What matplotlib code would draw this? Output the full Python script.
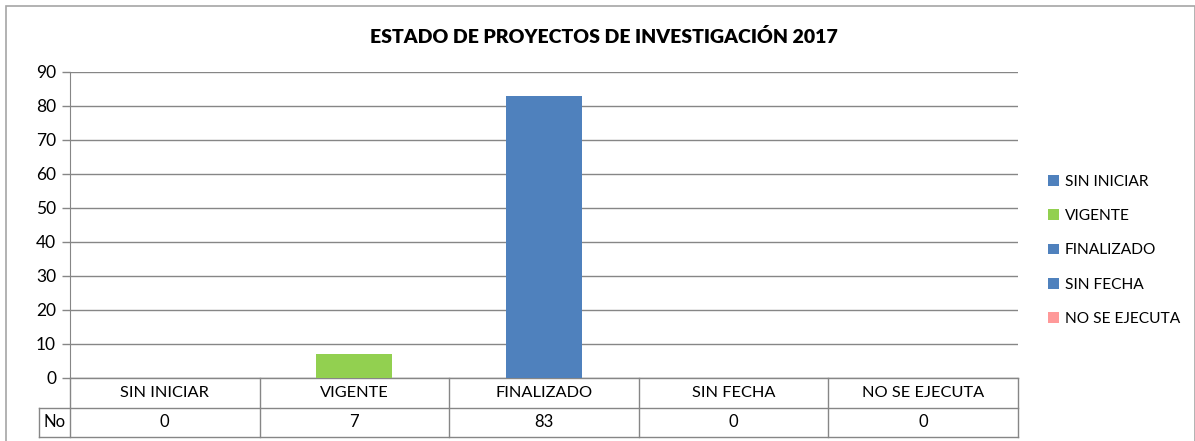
import matplotlib
matplotlib.use('Agg')
import matplotlib.pyplot as plt
from matplotlib.patches import Rectangle
from matplotlib.transforms import blended_transform_factory

plt.rcParams['font.family'] = ['Lato', 'DejaVu Sans']

categories = ['SIN INICIAR', 'VIGENTE', 'FINALIZADO', 'SIN FECHA', 'NO SE EJECUTA']
values = [0, 7, 83, 0, 0]
colors = ['#4F81BD', '#92D050', '#4F81BD', '#4F81BD', '#FF9999']
row_label = 'No'
title = 'ESTADO DE PROYECTOS DE INVESTIGACIÓN 2017'
yticks = list(range(0, 100, 10))

GRID = '#868686'
W, H = 1195, 441


def fx(px):
    return px / W


def fy(py):
    return 1 - py / H


fig = plt.figure(figsize=(W / 100, H / 100), dpi=100)

# outer chart border
fig.patches.append(Rectangle((fx(6), fy(445)), fx(1195) - fx(6), fy(5.5) - fy(445),
                             transform=fig.transFigure, fill=False,
                             edgecolor='#A6A6A6', lw=1.2))

ax = fig.add_axes([fx(70), fy(378), fx(1018) - fx(70), fy(72) - fy(378)])
ax.set_xlim(-0.5, len(categories) - 0.5)
ax.set_ylim(0, 90)

for i, (v, c) in enumerate(zip(values, colors)):
    ax.bar(i, v, width=0.4, color=c, label=categories[i], zorder=3)

ax.set_yticks(yticks)
ax.tick_params(axis='y', length=6, width=1, color=GRID, labelsize=12.5, pad=4)
ax.set_xticks([])
ax.yaxis.grid(True, color=GRID, lw=1, zorder=0)
for s in ['top', 'right', 'bottom']:
    ax.spines[s].set_visible(False)
ax.spines['left'].set_color(GRID)

# data table under the axis
trans = blended_transform_factory(ax.transData, ax.transAxes)
row_h = 29.5 / 306
y0 = 0
y1 = -row_h
y2 = -2 * row_h
lo, hi = -0.5, len(categories) - 0.5
no_left = -0.5 - (70 - 39) / ((1018 - 70) / len(categories))
lk = dict(color=GRID, lw=1, transform=trans, clip_on=False)
ax.plot([lo, hi], [y0, y0], **lk)
ax.plot([no_left, hi], [y1, y1], **lk)
ax.plot([no_left, hi], [y2, y2], **lk)
ax.plot([no_left, no_left], [y1, y2], **lk)
ax.plot([lo, lo], [y0, y2], **lk)
for i in range(len(categories)):
    ax.plot([i + 0.5, i + 0.5], [y0, y2], **lk)
    ax.text(i, (y0 + y1) / 2, categories[i], transform=trans, ha='center',
            va='center', fontsize=11.8)
    ax.text(i, (y1 + y2) / 2, str(values[i]), transform=trans, ha='center',
            va='center', fontsize=12)
ax.text((no_left + lo) / 2, (y1 + y2) / 2, row_label, transform=trans,
        ha='center', va='center', fontsize=12)

fig.text(fx(604), fy(37), title, ha='center', va='center', fontsize=14,
         fontweight='heavy')

leg = fig.legend(loc='upper left', bbox_to_anchor=(fx(1034), fy(161)),
                 frameon=False, fontsize=11.2, handlelength=0.7,
                 handleheight=0.7, handletextpad=0.4, labelspacing=1.3)

fig.savefig('out.png', dpi=100)
